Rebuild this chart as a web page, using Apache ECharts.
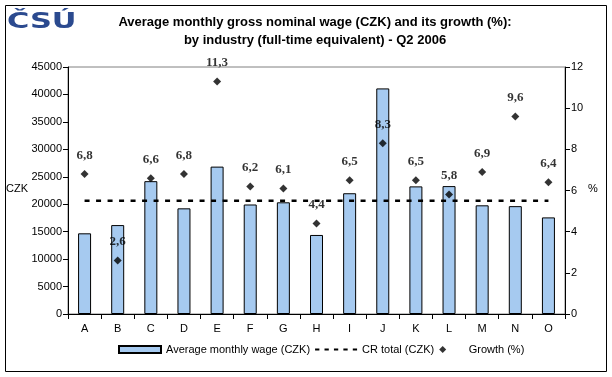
<!DOCTYPE html>
<html>
<head>
<meta charset="utf-8">
<script src="https://cdn.jsdelivr.net/npm/echarts@6/dist/echarts.min.js"></script>
<style>
  html, body { margin: 0; padding: 0; background: #fff; }
  #chart { width: 612px; height: 377px; }
</style>
</head>
<body>
<div id="chart"></div>
<script>
// industries (NACE sections)
var categories = ['A', 'B', 'C', 'D', 'E', 'F', 'G', 'H', 'I', 'J', 'K', 'L', 'M', 'N', 'O'];
// average monthly wage, CZK
var wage = [14700, 16200, 24200, 19250, 26850, 19950, 20350, 14400, 22000, 41100, 23250, 23300, 19800, 19650, 17600];
// year-on-year growth, %
var growth = [6.8, 2.6, 6.6, 6.8, 11.3, 6.2, 6.1, 4.4, 6.5, 8.3, 6.5, 5.8, 6.9, 9.6, 6.4];
// CR total average wage, CZK
var crTotal = 20640;
var crLine = categories.map(function () { return crTotal; });

var axisFont = { fontFamily: 'Liberation Sans', fontSize: 11, color: '#000' };

var chart = echarts.init(document.getElementById('chart'));
chart.setOption({
  animation: false,
  backgroundColor: '#fff',
  textStyle: { fontFamily: 'Liberation Sans' },
  graphic: [
    { type: 'rect', shape: { x: 5.5, y: 5.5, width: 601, height: 366 },
      style: { fill: 'none', stroke: '#000', lineWidth: 1 }, z: 0 },
    { type: 'text', x: 7, y: 12, scaleX: 1.45,
      style: { text: 'ČSÚ', font: 'bold 21px "DejaVu Sans"', fill: '#2b4a8f', verticalAlign: 'top' } },
    { type: 'text', left: 6, top: 183,
      style: { text: 'CZK', font: '11px "Liberation Sans"', fill: '#000' } },
    { type: 'text', left: 588, top: 183,
      style: { text: '%', font: '11px "Liberation Sans"', fill: '#000' } }
  ],
  title: {
    text: 'Average monthly gross nominal wage (CZK) and its growth (%):\nby industry (full-time equivalent) - Q2 2006',
    left: 310, textAlign: 'center', top: 8,
    textStyle: { fontFamily: 'Liberation Sans', fontWeight: 'bold', fontSize: 13, lineHeight: 18, color: '#000' }
  },
  legend: {
    bottom: 17, left: 113,
    itemWidth: 42, itemHeight: 7, itemGap: 5, symbolKeepAspect: true,
    textStyle: { fontFamily: 'Liberation Sans', fontSize: 11, color: '#000' },
    data: [
      { name: 'Average monthly wage (CZK)', icon: 'rect' },
      { name: 'CR total (CZK)', icon: 'path://M0,0h5v2.4h-5z M11,0h5v2.4h-5z M22,0h5v2.4h-5z M33,0h5v2.4h-5z M44,0h5v2.4h-5z' },
      { name: 'Growth (%)', icon: 'path://M5,0L10,5L5,10L0,5Z' }
    ]
  },
  grid: { left: 68, right: 47, top: 67, bottom: 63, show: true, borderColor: '#808080', borderWidth: 1 },
  xAxis: {
    type: 'category', data: categories,
    axisLine: { lineStyle: { color: '#000' } },
    axisTick: { show: true, lineStyle: { color: '#000' } },
    axisLabel: Object.assign({ margin: 9 }, axisFont)
  },
  yAxis: [
    { type: 'value', min: 0, max: 45000, interval: 5000, position: 'left',
      axisLine: { show: true, lineStyle: { color: '#000' } },
      axisTick: { show: true, lineStyle: { color: '#000' } },
      splitLine: { show: false },
      axisLabel: Object.assign({ margin: 6, formatter: function (v) { return String(v); } }, axisFont) },
    { type: 'value', min: 0, max: 12, interval: 2, position: 'right',
      axisLine: { show: true, lineStyle: { color: '#000' } },
      axisTick: { show: true, lineStyle: { color: '#000' } },
      splitLine: { show: false },
      axisLabel: Object.assign({ margin: 6 }, axisFont) }
  ],
  series: [
    { name: 'Average monthly wage (CZK)', type: 'bar', data: wage, barWidth: 13,
      itemStyle: { color: '#a6caf0', borderColor: '#000', borderWidth: 1 } },
    { name: 'CR total (CZK)', type: 'line', data: crLine, symbol: 'none',
      lineStyle: { color: '#000', width: 2.5, type: [5, 6.5] }, itemStyle: { color: '#000' }, z: 3 },
    { name: 'Growth (%)', type: 'scatter', yAxisIndex: 1, data: growth,
      symbol: 'diamond', symbolSize: 8, itemStyle: { color: '#000' }, z: 4,
      label: { show: true, position: 'top', distance: 8,
        fontFamily: 'Liberation Serif', fontWeight: 'bold', fontSize: 13, color: '#000',
        formatter: function (p) { return p.value.toFixed(1).replace('.', ','); } } }
  ]
});
</script>
</body>
</html>
